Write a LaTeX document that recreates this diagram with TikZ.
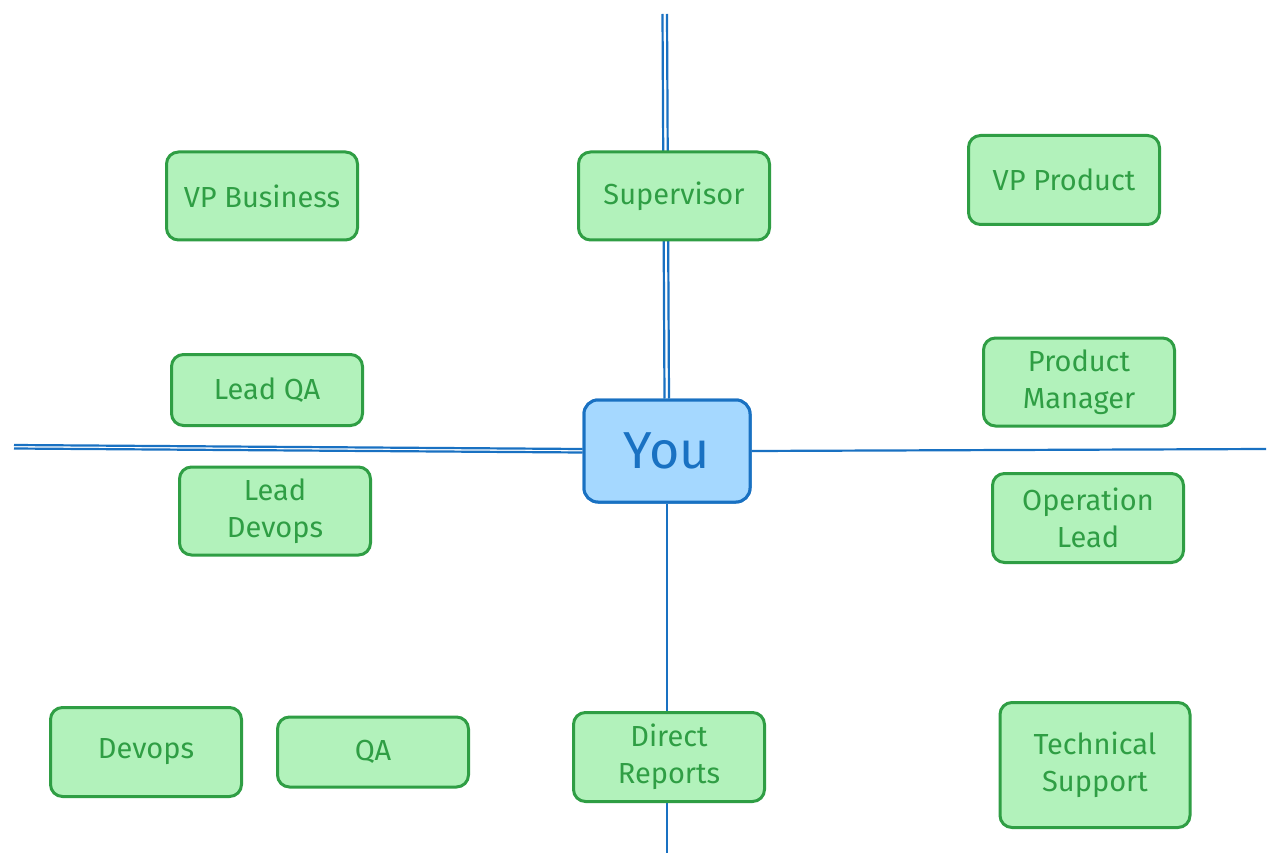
\documentclass[tikz,border=0pt]{standalone}
\usepackage{fontspec}
\setmainfont{Fira Sans}
\definecolor{gfill}{HTML}{B2F2BB}
\definecolor{gline}{HTML}{2F9E44}
\definecolor{bfill}{HTML}{A5D8FF}
\definecolor{bline}{HTML}{1971C2}
\tikzset{
  card/.style={draw=gline, fill=gfill, line width=3pt, rounded corners=12pt,
    text=gline, font=\fontsize{29}{37}\selectfont, align=center, inner sep=0pt,
    minimum width=191pt},
  youbox/.style={draw=bline, fill=bfill, line width=3pt, rounded corners=14pt,
    text=bline, font=\fontsize{52}{56}\selectfont, inner sep=0pt,
    minimum width=166pt, minimum height=102pt},
  axis/.style={draw=bline, line width=2.2pt},
}
\begin{document}
\begin{tikzpicture}[x=1pt,y=-1pt]
\useasboundingbox (0,0) rectangle (1280,853);
\fill[white] (0,0) rectangle (1280,853);
% central node
\node[youbox] (you) at (667,451) {You};
% axis ends
\coordinate (top) at (665,14);
\coordinate (bot) at (667,853);
\coordinate (lft) at (14,447);
\coordinate (rgt) at (1266,449);
\draw[axis] ([xshift=-2.5pt]you.north) -- ([xshift=-2.5pt]top);
\draw[axis] ([xshift=2pt]you.north) -- ([xshift=2pt]top);
\draw[axis] (you.south) -- (bot);
\draw[axis] ([yshift=-1.5pt]you.west) -- ([yshift=-1.5pt]lft);
\draw[axis] ([yshift=2pt]you.west) -- ([yshift=2pt]lft);
\draw[axis] (you.east) -- (rgt);
\node[youbox] at (you) {You};
% cards
\node[card, minimum height=88pt] (vpb) at (262,196) {VP Business};
\node[card, minimum height=88pt] (sup) at (674,196) {Supervisor};
\node[card, minimum height=89pt] (vpp) at (1064,180) {VP Product};
\node[card, minimum height=71pt] (lqa) at (267,390) {Lead QA};
\node[card, minimum height=88pt] (pm) at (1079,382) {Product\\Manager};
\node[card, minimum height=88pt] (ldv) at (275,511) {Lead\\Devops};
\node[card, minimum height=89pt] (ol) at (1088,518) {Operation\\Lead};
\node[card, minimum height=89pt] (dv) at (146,752) {Devops};
\node[card, minimum height=70pt] (qa) at (373,752) {QA};
\node[card, minimum height=89pt] (dr) at (669,757) {Direct\\Reports};
\node[card, minimum height=125pt, minimum width=190pt] (ts) at (1095,765) {Technical\\Support};
\end{tikzpicture}
\end{document}
